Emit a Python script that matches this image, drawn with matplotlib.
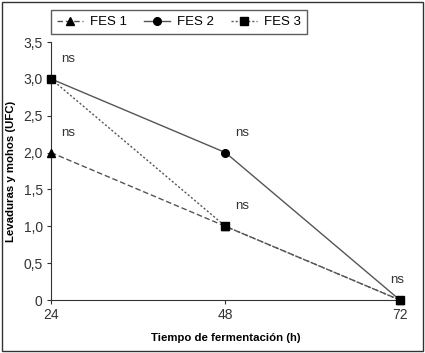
import matplotlib.pyplot as plt
from matplotlib.patches import Rectangle

# data
tiempo = [24, 48, 72]
fes1 = [2.0, 1.0, 0.0]
fes2 = [3.0, 2.0, 0.0]
fes3 = [3.0, 1.0, 0.0]
yticks = [0, 0.5, 1.0, 1.5, 2.0, 2.5, 3.0, 3.5]
ytick_labels = ["0", "0,5", "1,0", "1,5", "2,0", "2,5", "3,0", "3,5"]
ns_pos = [(24, 3.0), (24, 2.0), (48, 2.0), (48, 1.0), (72, 0.0)]

plt.rcParams['font.family'] = ['Liberation Sans', 'DejaVu Sans']
grey = '#555555'

fig = plt.figure(figsize=(4.25, 3.53), dpi=100)
ax = fig.add_axes([0.12, 0.150, 0.821, 0.731])

ax.plot(tiempo, fes1, color=grey, lw=1, ls=(0, (4, 2)), marker='^', ms=5.5,
        mfc='black', mec='black', label='FES 1', clip_on=False, zorder=3)
ax.plot(tiempo, fes2, color=grey, lw=1, ls='-', marker='o', ms=5.5,
        mfc='black', mec='black', label='FES 2', clip_on=False, zorder=3)
ax.plot(tiempo, fes3, color=grey, lw=1, ls=(0, (1.5, 1.5)), marker='s', ms=6,
        mfc='black', mec='black', label='FES 3', clip_on=False, zorder=4)

for x, y in ns_pos:
    ax.annotate('ns', (x, y), xytext=(7 if x < 72 else -2, 10), textcoords='offset points',
                fontsize=9.5, color='#333333', ha='left' if x < 72 else 'center',
                va='bottom')

ax.set_xlim(24, 72)
ax.set_ylim(0, 3.5)
ax.set_xticks(tiempo)
ax.set_yticks(yticks)
ax.set_yticklabels(ytick_labels)
ax.tick_params(labelsize=10, colors='#333333', length=3, pad=3)
ax.spines['top'].set_visible(False)
ax.spines['right'].set_visible(False)
for s in ['left', 'bottom']:
    ax.spines[s].set_color('#333333')

ax.set_xlabel('Tiempo de fermentación (h)', fontsize=8.2, fontweight='bold', labelpad=8)
ax.set_ylabel('Levaduras y mohos (UFC)', fontsize=8.2, fontweight='bold', labelpad=5)

leg = ax.legend(loc='lower left', bbox_to_anchor=(0.0, 1.03), ncol=3, fontsize=9.5,
                frameon=True, fancybox=False, edgecolor='#333333',
                handlelength=2.0, columnspacing=1.3, borderpad=0.45, handletextpad=0.5,
                borderaxespad=0)
leg.get_frame().set_linewidth(1)

fig.patches.append(Rectangle((0.005, 0.005), 0.99, 0.99, transform=fig.transFigure,
                             fill=False, edgecolor='#333333', lw=1))

fig.savefig('out.png', dpi=100)
